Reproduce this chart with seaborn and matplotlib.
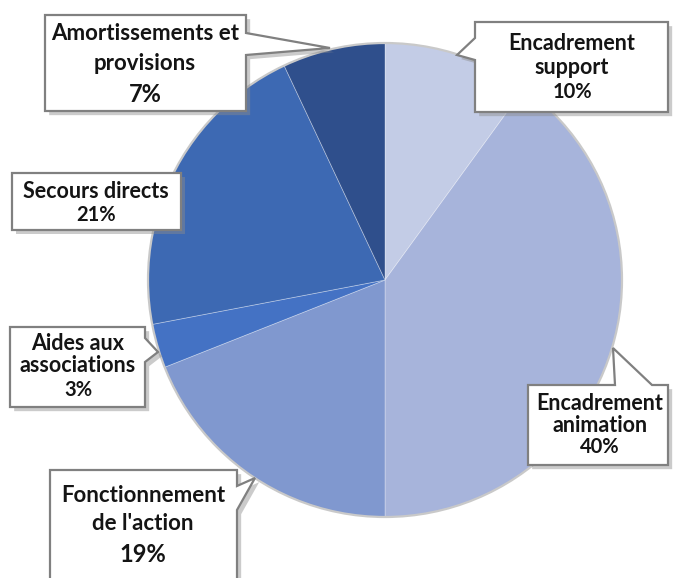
import matplotlib
matplotlib.use("Agg")
import matplotlib.pyplot as plt
import matplotlib.patheffects as pe
from matplotlib.patches import Polygon, Circle
import seaborn as sns

# Répartition des dépenses (%)
postes = ["Encadrement support", "Encadrement animation", "Fonctionnement de l'action",
          "Aides aux associations", "Secours directs", "Amortissements et provisions"]
parts = [10, 40, 19, 3, 21, 7]
couleurs = ["#c3cce6", "#a7b4db", "#8098cf", "#4472c4", "#3d69b3", "#2f4f8c"]

# étiquettes (lignes de texte) pour chaque bulle
lignes = [
    ["Encadrement", "support", "10%"],
    ["Encadrement", "animation", "40%"],
    ["Fonctionnement", "de l'action", "19%"],
    ["Aides aux", "associations", "3%"],
    ["Secours directs", "21%"],
    ["Amortissements et", "provisions", "7%"],
]

sns.set_theme(style="white")
plt.rcParams["font.family"] = ["Lato", "DejaVu Sans"]

W, H = 679, 578
fig = plt.figure(figsize=(W / 100, H / 100), dpi=100)
ax = fig.add_axes([0, 0, 1, 1])

cx, cy, r = 385, H - 280, 237
ax.pie(parts, colors=sns.color_palette(couleurs), startangle=90, counterclock=False,
       center=(cx, cy), radius=r,
       wedgeprops=dict(edgecolor=(1, 1, 1, 0.35), linewidth=0.6))
ax.add_patch(Circle((cx, cy), r, fill=False, ec="#c9c9c9", lw=1.6, zorder=3))


def py(y):
    return H - y


# formes des bulles (pixels, origine en haut à gauche)
bulles = [
    [(475, 22), (668, 22), (668, 112), (475, 112), (475, 60), (457, 55), (475, 38)],
    [(528, 385), (615, 385), (613, 348), (652, 385), (668, 385), (668, 465), (528, 465)],
    [(50, 470), (237, 470), (237, 486), (255, 478), (237, 510), (237, 590), (50, 590)],
    [(10, 327), (145, 327), (145, 338), (158, 352), (145, 362), (145, 407), (10, 407)],
    [(12, 173), (181, 173), (181, 230), (12, 230)],
    [(45, 15), (246, 15), (246, 33), (330, 48), (246, 55), (246, 111), (45, 111)],
]
# position du texte : centre x, y de chaque ligne, tailles
textes = [
    (572, [43, 67, 92], [15.5, 15.5, 14.5]),
    (600, [403, 425, 447], [15.5, 15.5, 14.5]),
    (143, [495, 523, 555], [16, 16, 17]),
    (78, [343, 365, 390], [15.5, 15.5, 14.5]),
    (96, [192, 215], [15.5, 14.5]),
    (145, [33, 63, 95], [16, 16, 17]),
]

ombre = [pe.withSimplePatchShadow(offset=(3, -3), shadow_rgbFace="#8c8c8c", alpha=0.45)]
for forme, (tx, ys, tailles), txt in zip(bulles, textes, lignes):
    poly = Polygon([(x, py(y)) for x, y in forme], closed=True, fc="white",
                   ec="#808080", lw=1.6, zorder=5, joinstyle="miter")
    poly.set_path_effects(ombre)
    ax.add_patch(poly)
    for ligne, y, t in zip(txt, ys, tailles):
        ax.text(tx, py(y), ligne, ha="center", va="center", fontsize=t,
                fontweight="bold", color="#141414", zorder=6)

ax.set_xlim(0, W)
ax.set_ylim(0, H)
ax.set_aspect("equal")
ax.axis("off")

fig.savefig("out.png", dpi=100)
